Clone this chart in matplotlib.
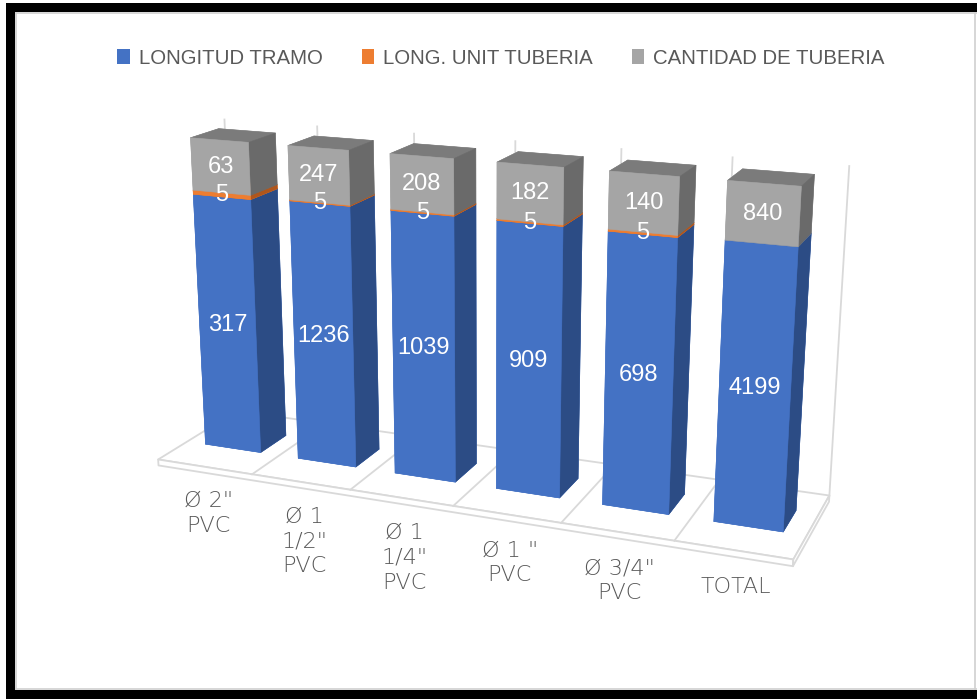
import numpy as np
import matplotlib
matplotlib.use("Agg")
import matplotlib.pyplot as plt
from matplotlib.patches import Rectangle, Patch
from matplotlib.lines import Line2D
from mpl_toolkits.mplot3d.art3d import Poly3DCollection

# datos por tramo
categorias = ['Ø 2"\nPVC', 'Ø 1\n1/2"\nPVC', 'Ø 1\n1/4"\nPVC', 'Ø 1 "\nPVC', 'Ø 3/4"\nPVC', 'TOTAL']
longitud_tramo = [317, 1236, 1039, 909, 698, 4199]
long_unit_tuberia = [5, 5, 5, 5, 5, 0]
cantidad_tuberia = [63, 247, 208, 182, 140, 840]

series = ['LONGITUD TRAMO', 'LONG. UNIT TUBERIA', 'CANTIDAD DE TUBERIA']
col_front = ['#4472C4', '#ED7D31', '#A5A5A5']
col_top = ['#3A64B0', '#D2691F', '#7B7B7B']
col_side = ['#2C4C85', '#B0561C', '#6A6A6A']

fuente = ['Liberation Sans', 'DejaVu Sans']
gris_txt = '#595959'
gris_linea = '#d9d9d9'

W, H = 977, 699
fig = plt.figure(figsize=(W / 100, H / 100), dpi=100)


def fx(px):
    return px / W


def fy(py):
    return 1 - py / H


# --- 3D column chart, 100% stacked ---
ax = fig.add_axes([-0.012, 0.029, 1.0, 1.0], projection='3d')
ax.set_proj_type('persp', focal_length=0.46)
ax.view_init(elev=16.5, azim=-68)
n = len(categorias)
bw, bd, y0 = 0.6, 0.5, 0.3
ax.set_xlim(-0.5, n - 0.5)
ax.set_ylim(0, 1.1)
ax.set_zlim(0, 1)
ax.set_box_aspect((n, 1.1, 2.97), zoom=1.06)
ax.set_axis_off()
ax.computed_zorder = False

M = ax.get_proj()


def to2d(x, y, z):
    v = M @ np.array([x, y, z, 1.0])
    return v[0] / v[3], v[1] / v[3]


vals = np.array([longitud_tramo, long_unit_tuberia, cantidad_tuberia], dtype=float)
frac = vals / vals.sum(axis=0)
bottoms = np.vstack([np.zeros(n), np.cumsum(frac, axis=0)[:-1]])

# floor slab, reaching a little in front of the columns
x0, x1 = -0.5, n - 0.5
yf, yb = -0.22, 1.25
t = 0.02
floor = [
    [(x0, yf, 0), (x1, yf, 0), (x1, yb, 0), (x0, yb, 0)],
    [(x0, yf, -t), (x1, yf, -t), (x1, yf, 0), (x0, yf, 0)],
    [(x1, yf, -t), (x1, yb, -t), (x1, yb, 0), (x1, yf, 0)],
]
ax.add_collection3d(Poly3DCollection(floor, facecolor='white', edgecolor=gris_linea,
                                     linewidth=1.3, zorder=1, clip_on=False))
for k in range(1, n):
    ax.plot([k - 0.5, k - 0.5], [yf, yb], [0, 0], color=gris_linea, lw=1.3,
            zorder=2, clip_on=False)
# back wall gridlines
for k in range(n + 1):
    ax.plot([k - 0.5, k - 0.5], [yb, yb], [0, 1], color=gris_linea, lw=1.3,
            zorder=2, clip_on=False)

# bars
xs, ys, zs, dzs, fcs = [], [], [], [], []
for s in range(3):
    for i in range(n):
        if vals[s, i] <= 0:
            continue
        xs.append(i - bw / 2)
        ys.append(y0)
        zs.append(bottoms[s, i])
        dzs.append(frac[s, i])
        f, tp, sd = col_front[s], col_top[s], col_side[s]
        fcs += [f, tp, f, f, f, sd]  # -z, +z, -y, +y, -x, +x
bars = ax.bar3d(xs, ys, zs, bw, bd, dzs, color=fcs, shade=False, edgecolor=fcs,
                linewidth=0.4, zorder=3)
bars.set_clip_on(False)

# data labels on the front faces
for s in range(3):
    for i in range(n):
        if vals[s, i] <= 0:
            continue
        px, py = to2d(i, y0, bottoms[s, i] + frac[s, i] / 2)
        ax.text2D(px, py, f'{vals[s, i]:.0f}', transform=ax.transData,
                  ha='center', va='center', color='white', fontsize=17,
                  family=fuente, zorder=5)

# category labels under the floor
for i, c in enumerate(categorias):
    px, py = to2d(i + 0.03, yf, -0.08)
    ax.text2D(px, py, c, transform=ax.transData, ha='center', va='top',
              color=gris_txt, fontsize=16, fontweight='light', linespacing=1.3, zorder=5)

# legend
handles = [Patch(facecolor=c, edgecolor='none') for c in col_front]
fig.legend(handles, series, loc='center', bbox_to_anchor=(fx(501), fy(58)), ncol=3,
           frameon=False, prop={'family': fuente, 'size': 14.7}, labelcolor=gris_txt,
           handlelength=0.6, handleheight=0.75, handletextpad=0.45, columnspacing=1.9)

# black frame around the chart
frame = dict(transform=fig.transFigure, facecolor='black', edgecolor='none', zorder=10)
fig.add_artist(Rectangle((fx(6), fy(12)), 1 - fx(6), 9 / H, **frame))
fig.add_artist(Rectangle((fx(6), 0), 9 / W, fy(3), **frame))
fig.add_artist(Rectangle((fx(6), 0), 1 - fx(6), 9 / H, **frame))
for xy in [([fx(15), 1], [fy(13), fy(13)]), ([fx(15), 1], [fy(689), fy(689)]),
           ([fx(16), fx(16)], [fy(13), fy(689)]), ([fx(975), fx(975)], [fy(13), fy(689)])]:
    fig.add_artist(Line2D(xy[0], xy[1], transform=fig.transFigure, color='#d0d0d0', lw=1.2))

fig.savefig('out.png', dpi=100)
